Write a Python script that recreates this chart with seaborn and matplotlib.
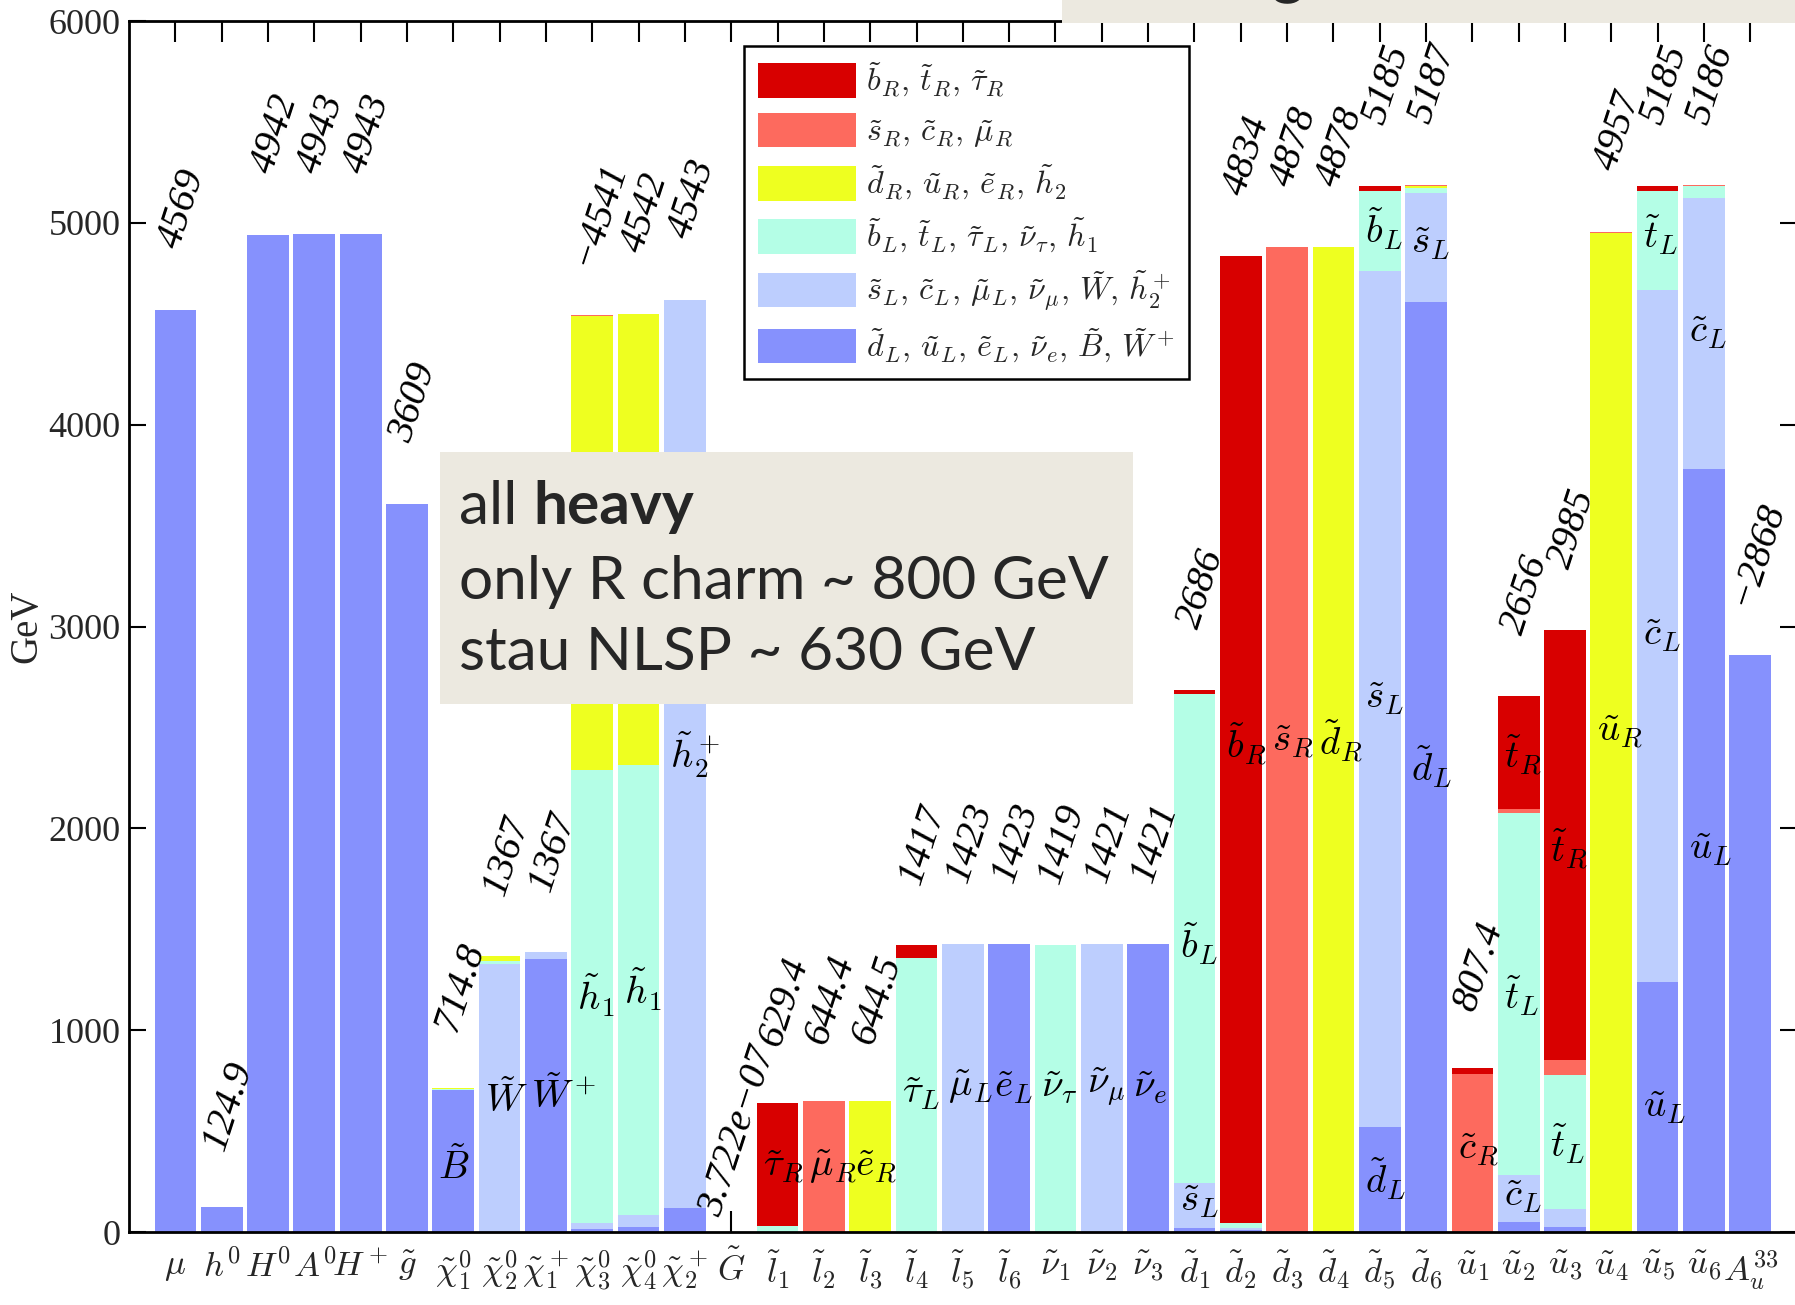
import numpy as np
import pandas as pd
import matplotlib
matplotlib.use("Agg")
import matplotlib.pyplot as plt
import seaborn as sns
from matplotlib.patches import Patch, Rectangle

# ---------------- data ----------------
particles = ["mu", "h0", "H0", "A0", "Hp", "gl", "N1", "N2", "C1", "N3", "N4", "C2", "Gr",
             "l1", "l2", "l3", "l4", "l5", "l6", "v1", "v2", "v3",
             "d1", "d2", "d3", "d4", "d5", "d6", "u1", "u2", "u3", "u4", "u5", "u6", "Au33"]

tick_labels = [r"$\mu$", r"$h^0$", r"$H^0$", r"$A^0$", r"$H^+$", r"$\tilde{g}$",
               r"$\tilde{\chi}_1^0$", r"$\tilde{\chi}_2^0$", r"$\tilde{\chi}_1^+$",
               r"$\tilde{\chi}_3^0$", r"$\tilde{\chi}_4^0$", r"$\tilde{\chi}_2^+$", r"$\tilde{G}$",
               r"$\tilde{l}_1$", r"$\tilde{l}_2$", r"$\tilde{l}_3$", r"$\tilde{l}_4$", r"$\tilde{l}_5$",
               r"$\tilde{l}_6$", r"$\tilde{\nu}_1$", r"$\tilde{\nu}_2$", r"$\tilde{\nu}_3$",
               r"$\tilde{d}_1$", r"$\tilde{d}_2$", r"$\tilde{d}_3$", r"$\tilde{d}_4$", r"$\tilde{d}_5$",
               r"$\tilde{d}_6$", r"$\tilde{u}_1$", r"$\tilde{u}_2$", r"$\tilde{u}_3$", r"$\tilde{u}_4$",
               r"$\tilde{u}_5$", r"$\tilde{u}_6$", r"$A_u^{33}$"]

value_labels = ["4569", "124.9", "4942", "4943", "4943", "3609", "714.8", "1367", "1367",
                "\u22124541", "4542", "4543", "3.722e\u221207", "629.4", "644.4", "644.5",
                "1417", "1423", "1423", "1419", "1421", "1421", "2686", "4834", "4878", "4878",
                "5185", "5187", "807.4", "2656", "2985", "4957", "5185", "5186", "\u22122868"]

# composition segments (GeV), stacked bottom -> top: dL, sL, bL, dR, sR, bR
dL = [4569, 125, 4942, 4943, 4943, 3609, 705, 0, 1351, 15, 25, 120, 0, 0, 0, 0, 0, 0, 1428,
      0, 0, 1428, 20, 8, 0, 0, 520, 4609, 0, 50, 25, 0, 1240, 3782, 2860]
sL = [0, 0, 0, 0, 0, 0, 0, 1327, 35, 30, 60, 4498, 0, 0, 0, 0, 0, 1428, 0,
      0, 1428, 0, 223, 12, 0, 0, 4242, 541, 0, 234, 88, 0, 3428, 1342, 0]
bL = [0, 0, 0, 0, 0, 0, 5, 18, 0, 2242, 2227, 0, 0, 28, 0, 0, 1356, 0, 0,
      1424, 0, 0, 2425, 25, 0, 0, 398, 25, 0, 1791, 663, 0, 492, 57, 0]
dR = [0, 0, 0, 0, 0, 0, 5, 21, 0, 2253, 2236, 0, 0, 0, 0, 650, 0, 0, 0,
      0, 0, 0, 0, 0, 0, 4878, 0, 6, 0, 0, 0, 4950, 0, 0, 0]
sR = [0, 0, 0, 0, 0, 0, 0, 0, 0, 5, 0, 0, 0, 0, 650, 0, 0, 0, 0,
      0, 0, 0, 0, 0, 4878, 0, 0, 6, 783, 20, 77, 7, 0, 5, 0]
bR = [0, 0, 0, 0, 0, 0, 0, 0, 0, 0, 0, 0, 0, 612, 0, 0, 65, 0, 0,
      0, 0, 0, 18, 4789, 0, 0, 25, 0, 29, 561, 2132, 0, 25, 0, 0]

group_names = ["dL", "sL", "bL", "dR", "sR", "bR"]
group_colors = ["#8691FD", "#BDCEFE", "#B4FEE6", "#EEFF20", "#FD6A5E", "#D80000"]
legend_labels = [r"$\tilde{d}_L,\,\tilde{u}_L,\,\tilde{e}_L,\,\tilde{\nu}_e,\,\tilde{B},\,\tilde{W}^+$",
                 r"$\tilde{s}_L,\,\tilde{c}_L,\,\tilde{\mu}_L,\,\tilde{\nu}_\mu,\,\tilde{W},\,\tilde{h}_2^+$",
                 r"$\tilde{b}_L,\,\tilde{t}_L,\,\tilde{\tau}_L,\,\tilde{\nu}_\tau,\,\tilde{h}_1$",
                 r"$\tilde{d}_R,\,\tilde{u}_R,\,\tilde{e}_R,\,\tilde{h}_2$",
                 r"$\tilde{s}_R,\,\tilde{c}_R,\,\tilde{\mu}_R$",
                 r"$\tilde{b}_R,\,\tilde{t}_R,\,\tilde{\tau}_R$"]

# labels written inside the bars: bar index, height (GeV), text
inbar_idx = [6, 7, 8, 9, 10, 11, 13, 14, 15, 16, 17, 18, 19, 20, 21, 22, 22, 23, 24, 25,
             26, 26, 26, 27, 27, 28, 29, 29, 29, 30, 30, 31, 32, 32, 32, 33, 33]
inbar_y = [323, 652, 674, 1173, 1201, 2363, 323, 323, 323, 691, 720, 720, 720, 720, 720, 1428, 153,
           2419, 2430, 2430, 4969, 2646, 266, 4901, 2306, 408, 2363, 1173, 181, 1898, 436, 2476,
           4941, 2958, 618, 4459, 1898]
inbar_text = [r"$\tilde{B}$", r"$\tilde{W}$", r"$\tilde{W}^+$", r"$\tilde{h}_1$", r"$\tilde{h}_1$",
              r"$\tilde{h}_2^+$", r"$\tilde{\tau}_R$", r"$\tilde{\mu}_R$", r"$\tilde{e}_R$",
              r"$\tilde{\tau}_L$", r"$\tilde{\mu}_L$", r"$\tilde{e}_L$", r"$\tilde{\nu}_\tau$",
              r"$\tilde{\nu}_\mu$", r"$\tilde{\nu}_e$", r"$\tilde{b}_L$", r"$\tilde{s}_L$",
              r"$\tilde{b}_R$", r"$\tilde{s}_R$", r"$\tilde{d}_R$", r"$\tilde{b}_L$", r"$\tilde{s}_L$",
              r"$\tilde{d}_L$", r"$\tilde{s}_L$", r"$\tilde{d}_L$", r"$\tilde{c}_R$", r"$\tilde{t}_R$",
              r"$\tilde{t}_L$", r"$\tilde{c}_L$", r"$\tilde{t}_R$", r"$\tilde{t}_L$", r"$\tilde{u}_R$",
              r"$\tilde{t}_L$", r"$\tilde{c}_L$", r"$\tilde{u}_L$", r"$\tilde{c}_L$", r"$\tilde{u}_L$"]

y_ticks = [0, 1000, 2000, 3000, 4000, 5000, 6000]

# ---------------- style ----------------
sns.set_theme(style="white")
plt.rcParams["font.family"] = ["DejaVu Sans"]
plt.rcParams["mathtext.fontset"] = "cm"

fig = plt.figure(figsize=(17.95, 13.05), dpi=100)
ax = fig.add_axes([0.0719, 0.0559, 0.9290, 0.9280])

segments = pd.DataFrame({"dL": dL, "sL": sL, "bL": bL, "dR": dR, "sR": sR, "bR": bR},
                        index=particles)
cum = segments[group_names].cumsum(axis=1)
totals = cum["bR"].values

# draw cumulative layers from the top down so each stack segment shows
for name, col in reversed(list(zip(group_names, group_colors))):
    df = pd.DataFrame({"particle": particles, "height": cum[name].values})
    sns.barplot(data=df, x="particle", y="height", order=particles, color=col,
                saturation=1, width=0.9, linewidth=0, errorbar=None, ax=ax)

ax.set_xlim(-1, 35)
ax.set_ylim(0, 6000)
ax.set_xlabel("")
ax.set_ylabel("GeV", fontsize=28, family="Liberation Serif", labelpad=2)
ax.set_axisbelow(True)

ax.set_xticks(range(len(particles)))
ax.set_xticklabels(tick_labels, fontsize=25)
ax.set_yticks(y_ticks)
ax.set_yticklabels([str(v) for v in y_ticks], fontsize=26, family="Liberation Serif")
ax.tick_params(axis="x", direction="in", top=True, bottom=True, length=15, width=1.5,
               color="black", pad=12)
ax.tick_params(axis="y", direction="in", left=True, right=True, length=12, width=1.5,
               color="black", pad=6)
for s in ax.spines.values():
    s.set_color("black")
    s.set_linewidth(2)
ax.grid(False)

# value labels above bars
for i, (lab, h) in enumerate(zip(value_labels, totals)):
    ax.text(i + 0.15, h + 500, lab, rotation=72, rotation_mode="anchor",
            ha="center", va="center", fontsize=29, family="Liberation Serif",
            style="italic", color="black")

# composition labels inside bars
for i, y, t in zip(inbar_idx, inbar_y, inbar_text):
    ax.text(i - 0.32, y, t, ha="left", va="center", fontsize=28, color="black")

# legend (top entry = top of the stack)
handles = [Patch(facecolor=c, edgecolor="none") for c in group_colors][::-1]
leg = ax.legend(handles, legend_labels[::-1], loc="upper left",
                bbox_to_anchor=(0.3685, 0.979), borderaxespad=0, fontsize=23,
                handlelength=3.07, handleheight=1.28, labelspacing=0.42,
                handletextpad=0.3, borderpad=0.45, fancybox=False, framealpha=1,
                edgecolor="black")
leg.get_frame().set_linewidth(1.8)

# slide overlay boxes
W, H = 1795.0, 1305.0
box_col = "#ECE9E0"
fig.add_artist(Rectangle((440 / W, 1 - 704 / H), (1133 - 440) / W, (704 - 452) / H,
                         transform=fig.transFigure, facecolor=box_col, edgecolor="none",
                         zorder=10))
t1 = fig.text(459 / W, 1 - 524 / H, "all ", fontsize=43.5, family="Lato", va="baseline",
              ha="left", zorder=11)
fig.canvas.draw()
bb = t1.get_window_extent()
fig.text(bb.x1 / W, 1 - 524 / H, "heavy", fontsize=43.5, family="Lato", fontweight="bold",
         va="baseline", ha="left", zorder=11)
fig.text(459 / W, 1 - 599 / H, "only R charm ~ 800 GeV", fontsize=43.5, family="Lato",
         va="baseline", ha="left", zorder=11)
fig.text(459 / W, 1 - 670 / H, "stau NLSP ~ 630 GeV", fontsize=43.5, family="Lato",
         va="baseline", ha="left", zorder=11)

fig.add_artist(Rectangle((1062 / W, 1 - 23 / H), (1795 - 1062) / W, 23 / H,
                         transform=fig.transFigure, facecolor=box_col, edgecolor="none",
                         zorder=10))
fig.text(1288 / W, 1 + 9 / H, "g", fontsize=44, family="Lato", fontweight="bold",
         va="baseline", ha="center", zorder=11)

fig.savefig("out.png", dpi=100, facecolor="white")
